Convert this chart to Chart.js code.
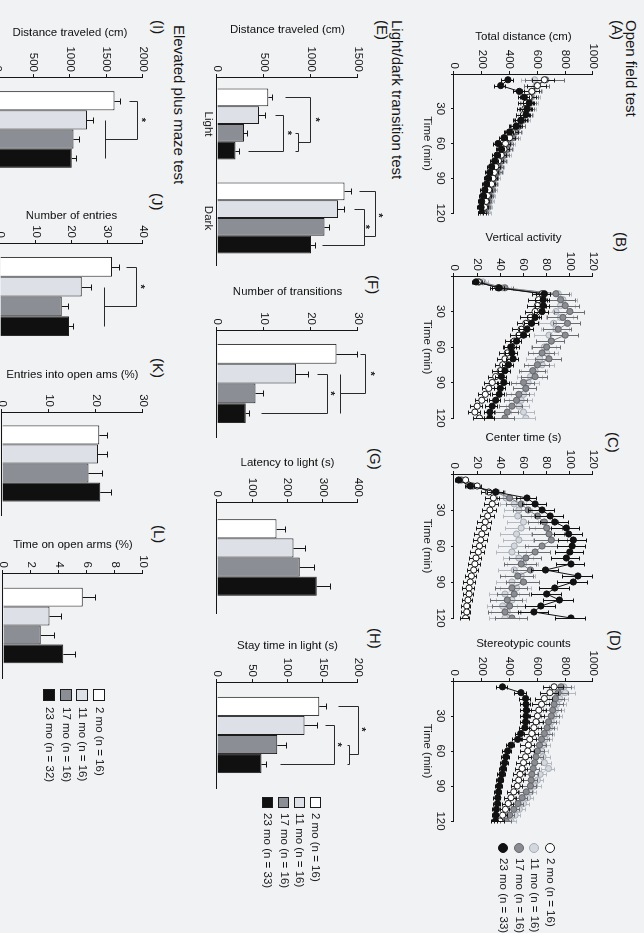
<!DOCTYPE html>
<html>
<head>
<meta charset="utf-8">
<title>Age-dependent behaviour: open field, light/dark transition and elevated plus maze</title>
<script src="https://cdn.jsdelivr.net/npm/chart.js@4.4.1/dist/chart.umd.min.js"></script>
<style>
  html, body { margin:0; padding:0; width:644px; height:933px; overflow:hidden; background:#f1f2f4; }
  /* the figure is laid out landscape (933 x 644) and turned a quarter turn clockwise */
  #fig { position:absolute; left:0; top:0; width:933px; height:644px; overflow:hidden;
         transform-origin:0 0; transform:translate(644px,0) rotate(90deg);
         font-family:"Liberation Sans", Arial, sans-serif; color:#161616; }
  #fig canvas { position:absolute; }
  .t { position:absolute; white-space:nowrap; line-height:1; }
  .head { font-size:15px; }
  .lg { font-size:11.5px; }
  .mk { position:absolute; box-sizing:border-box; }
</style>
</head>
<body>
<div id="fig"></div>
<script>
// ---------------- data ----------------
const GROUPS = ['2 mo', '11 mo', '17 mo', '23 mo'];
const N_OF_LD = [16, 16, 16, 33];
const N_EPM = [16, 16, 16, 32];
const TIME_MIN = [5, 10, 15, 20, 25, 30, 35, 40, 45, 50, 55, 60, 65, 70, 75, 80, 85, 90, 95, 100, 105, 110, 115, 120];

// (A) open field, total distance (cm) per 5-min bin; rows = 2, 11, 17, 23 mo
const OF_DISTANCE = [
  [650, 600, 560, 540, 520, 510, 500, 480, 450, 420, 400, 370, 360, 340, 320, 300, 290, 280, 270, 250, 240, 230, 220, 210],
  [580, 590, 570, 560, 550, 540, 520, 500, 470, 450, 430, 400, 390, 370, 350, 330, 320, 300, 290, 280, 270, 260, 250, 240],
  [660, 600, 560, 550, 540, 530, 510, 490, 470, 440, 420, 390, 380, 360, 340, 320, 310, 290, 280, 270, 255, 245, 235, 225],
  [388, 336, 470, 506, 541, 525, 518, 482, 447, 400, 360, 317, 340, 310, 293, 270, 257, 245, 234, 222, 210, 199, 195, 199]
];
const OF_DISTANCE_SEM = [
  [80, 70, 60, 55, 55, 50, 50, 50, 45, 45, 45, 40, 40, 40, 40, 35, 35, 35, 35, 30, 30, 30, 30, 30],
  [90, 80, 70, 65, 60, 60, 55, 55, 50, 50, 50, 45, 45, 45, 40, 40, 40, 40, 35, 35, 35, 35, 30, 30],
  [140, 90, 70, 60, 60, 55, 55, 50, 50, 50, 45, 45, 45, 40, 40, 40, 40, 35, 35, 35, 35, 30, 30, 30],
  [45, 40, 40, 40, 40, 40, 35, 35, 35, 35, 30, 30, 30, 30, 30, 25, 25, 25, 25, 25, 25, 20, 20, 20]
];

// (B) vertical activity
const OF_VERTICAL = [
  [21, 38, 76, 73, 72, 70, 66, 62, 58, 56, 52, 50, 46, 44, 42, 40, 36, 33, 30, 27, 24, 20, 18, 22],
  [25, 42, 90, 94, 92, 88, 92, 86, 88, 82, 84, 78, 80, 74, 76, 70, 66, 64, 62, 60, 58, 56, 60, 62],
  [22, 44, 88, 92, 96, 100, 94, 98, 90, 96, 84, 80, 76, 82, 72, 68, 70, 60, 62, 56, 54, 50, 46, 44],
  [19, 39, 78, 77, 77, 76, 70, 67, 63, 60, 54, 49, 50, 51, 47, 44, 41, 43, 40, 39, 36, 33, 31, 31]
];
const OF_VERTICAL_SEM = [
  [4, 6, 8, 8, 8, 8, 8, 7, 7, 7, 7, 7, 6, 6, 6, 6, 6, 6, 5, 5, 5, 5, 5, 5],
  [5, 8, 12, 13, 13, 13, 12, 12, 12, 12, 12, 11, 11, 11, 11, 11, 11, 10, 10, 10, 10, 10, 10, 9],
  [5, 8, 12, 13, 13, 13, 13, 12, 12, 12, 12, 12, 11, 11, 11, 11, 11, 10, 10, 10, 10, 10, 10, 9],
  [3, 5, 6, 6, 6, 6, 6, 6, 6, 6, 5, 5, 5, 5, 5, 5, 5, 5, 5, 5, 5, 5, 4, 4]
];

// (C) center time (s)
const OF_CENTER = [
  [10, 20, 30, 34, 33, 31, 29, 27, 26, 24, 23, 22, 21, 19, 18, 17, 15, 14, 13, 13, 12, 11, 11, 10],
  [7, 17, 37, 45, 52, 56, 55, 60, 58, 54, 56, 52, 50, 56, 60, 52, 58, 50, 54, 44, 50, 42, 46, 44],
  [6, 16, 36, 48, 58, 64, 72, 78, 80, 82, 84, 76, 70, 62, 58, 66, 55, 60, 50, 52, 46, 48, 44, 50],
  [4, 14, 36, 63, 70, 76, 83, 87, 97, 99, 103, 102, 100, 97, 101, 79, 107, 103, 87, 80, 91, 75, 69, 101]
];
const OF_CENTER_SEM = [
  [3, 4, 6, 6, 6, 6, 6, 6, 6, 6, 6, 6, 6, 5, 5, 5, 5, 5, 5, 4, 4, 4, 4, 4],
  [3, 5, 8, 10, 11, 12, 12, 13, 13, 13, 13, 13, 13, 13, 13, 13, 13, 13, 13, 13, 13, 13, 13, 13],
  [3, 5, 8, 10, 12, 12, 13, 13, 14, 14, 14, 14, 14, 14, 14, 14, 14, 14, 14, 14, 14, 14, 14, 14],
  [2, 4, 7, 9, 10, 11, 12, 12, 12, 12, 12, 12, 12, 12, 12, 12, 13, 13, 13, 13, 13, 13, 13, 13]
];

// (D) stereotypic counts
const OF_STEREO = [
  [720, 690, 650, 630, 610, 600, 590, 575, 560, 545, 535, 530, 515, 500, 490, 475, 465, 455, 430, 410, 390, 370, 350, 330],
  [790, 800, 760, 740, 730, 720, 700, 690, 670, 655, 640, 630, 640, 650, 680, 620, 600, 580, 550, 530, 500, 470, 440, 410],
  [770, 750, 730, 720, 710, 700, 680, 670, 650, 630, 615, 600, 590, 580, 570, 560, 555, 550, 520, 490, 460, 430, 400, 375],
  [349, 482, 515, 518, 520, 518, 515, 510, 480, 458, 410, 386, 373, 365, 355, 345, 335, 325, 320, 315, 313, 305, 300, 298]
];
const OF_STEREO_SEM = [
  [70, 65, 60, 60, 60, 55, 55, 55, 50, 50, 50, 50, 45, 45, 45, 45, 40, 40, 40, 40, 40, 35, 35, 35],
  [80, 75, 70, 70, 65, 65, 60, 60, 60, 60, 55, 55, 55, 55, 50, 50, 50, 50, 45, 45, 45, 45, 40, 40],
  [80, 75, 70, 70, 65, 65, 60, 60, 60, 60, 55, 55, 55, 55, 50, 50, 50, 50, 45, 45, 45, 45, 40, 40],
  [40, 40, 40, 38, 38, 36, 35, 34, 33, 32, 30, 30, 28, 28, 27, 26, 25, 25, 24, 24, 23, 22, 22, 22]
];

// (E)-(H) light/dark transition test, one value per group (2, 11, 17, 23 mo)
const LD_CHAMBERS = ['Light', 'Dark'];
const LD_DIST_LIGHT = [546, 446, 286, 196];
const LD_DIST_LIGHT_SEM = [50, 79, 46, 47];
const LD_DIST_DARK = [1357, 1286, 1143, 1000];
const LD_DIST_DARK_SEM = [79, 78, 64, 54];
const LD_TRANSITIONS = [25.4, 16.8, 8.2, 6.1];
const LD_TRANSITIONS_SEM = [4.7, 2.8, 1.8, 0.9];
const LD_LATENCY = [169, 217, 235, 283];
const LD_LATENCY_SEM = [28, 35, 43, 41];
const LD_STAY_LIGHT = [145, 124, 85.5, 63];
const LD_STAY_LIGHT_SEM = [11, 19, 14, 8];

// (I)-(L) elevated plus maze
const EPM_DISTANCE = [1609, 1232, 1048, 1025];
const EPM_DISTANCE_SEM = [92, 92, 88, 69];
const EPM_ENTRIES = [31.3, 22.9, 17.3, 19.3];
const EPM_ENTRIES_SEM = [2.2, 2.8, 1.9, 1.4];
const EPM_OPEN_ENTRIES = [20.7, 20.4, 18.4, 20.9];
const EPM_OPEN_ENTRIES_SEM = [1.8, 2.1, 3.0, 2.5];
const EPM_OPEN_TIME = [5.69, 3.32, 2.7, 4.31];
const EPM_OPEN_TIME_SEM = [0.92, 0.87, 1.0, 0.9];

// significance brackets: polylines of [bar slot within group, value], star = [slot, value]
const SIG_LD_DIST = [
  { cat: 0, paths: [[[0, 732], [0, 1000], [2.5, 1000], [2.5, 875]], [[2, 839], [2, 875], [3, 875], [3, 839]]], star: [1.25, 1071] },
  { cat: 0, paths: [[[1, 625], [1, 714], [3, 714], [3, 339]]], star: [2, 779] },
  { cat: 1, paths: [[[0, 1518], [0, 1696], [2.5, 1696], [2.5, 1571]]], star: [1.35, 1750] },
  { cat: 1, paths: [[[1, 1464], [1, 1571], [3, 1571], [3, 1125]]], star: [2, 1607] }
];
const SIG_LD_TRANSITIONS = [
  { cat: 0, paths: [[[0, 30.7], [0, 31.8], [2, 31.8], [2, 26.4]], [[1, 26.4], [3, 26.4]]], star: [1, 33.2] },
  { cat: 0, paths: [[[1, 21.4], [1, 23.6], [3, 23.6], [3, 9.6]]], star: [2, 24.6] }
];
const SIG_LD_STAY = [
  { cat: 0, paths: [[[0, 173], [0, 201], [2.5, 201], [2.5, 189]], [[2, 185.6], [2, 189], [3, 189], [3, 185.6]]], star: [1.2, 208] },
  { cat: 0, paths: [[[1, 155], [1, 168], [3, 168], [3, 91]]], star: [2, 174] }
];
const SIG_EPM_DISTANCE = [
  { cat: 0, paths: [[[0, 1816], [0, 1931], [2, 1931], [2, 1494]], [[1, 1494], [3, 1494]]], star: [1, 2014] }
];
const SIG_EPM_ENTRIES = [
  { cat: 0, paths: [[[0, 35.5], [0, 38.3], [2, 38.3], [2, 29.4]], [[1, 29.4], [3, 29.4]]], star: [1, 40] }
];

// ---------------- styling ----------------
const INK = '#161616';
const FONT_FAMILY = '"Liberation Sans", Arial, sans-serif';
const BAR_FILL = ['#ffffff', '#dde1e7', '#8c8e96', '#101010'];
const LINE_STYLE = [
  { line: '#1a1a1a', fill: '#ffffff', edge: '#1a1a1a', err: '#1a1a1a', order: 1 },
  { line: '#c3c8cf', fill: '#d3d7de', edge: '#a6abb3', err: '#b4b9c1', order: 3 },
  { line: '#7c7e85', fill: '#8a8c93', edge: '#646669', err: '#6b6d73', order: 2 },
  { line: '#111111', fill: '#111111', edge: '#111111', err: '#111111', order: 0 }
];

// plotting areas in figure coordinates (before the quarter turn)
const BOX = {
  A: { L: 74, R: 213, T: 51, B: 190, titleOff: 37 },
  B: { L: 276, R: 418, T: 51, B: 190, titleOff: 38 },
  C: { L: 474, R: 618, T: 51, B: 190, titleOff: 36 },
  D: { L: 681, R: 821, T: 51, B: 190, titleOff: 37 },
  E: { L: 77, R: 265, T: 286, B: 427, titleOff: 47, cat: 0.755 },
  F: { L: 330, R: 437, T: 286, B: 427, titleOff: 38, cat: 0.74 },
  G: { L: 502, R: 613, T: 286, B: 427, titleOff: 39, cat: 0.69 },
  H: { L: 682, R: 788, T: 286, B: 427, titleOff: 36, cat: 0.72 },
  I: { L: 77, R: 182, T: 501, B: 647, titleOff: 44, cat: 0.73 },
  J: { L: 243, R: 350, T: 501, B: 644, titleOff: 27, cat: 0.74 },
  K: { L: 412, R: 515, T: 501, B: 642, titleOff: 37, cat: 0.74 },
  L: { L: 573, R: 678, T: 501, B: 641, titleOff: 28, cat: 0.72 }
};
const M = { l: 64, t: 44, r: 12, b: 44 };   // canvas margin around each plotting area
const HALF_LINE = 11.5 * 1.2 / 2;
const plainNumber = v => String(v);

Chart.defaults.font.family = FONT_FAMILY;
Chart.defaults.font.size = 11.5;
Chart.defaults.color = INK;
Chart.defaults.animation = false;

// error bars (SEM) drawn through each dataset's own scales
const errorBars = {
  id: 'errorBars',
  beforeDatasetDraw(chart, args) {
    const ds = chart.data.datasets[args.index];
    if (!ds.sem || ds.oneSided) return;
    drawErrors(chart, args.meta, ds);
  },
  afterDatasetDraw(chart, args) {
    const ds = chart.data.datasets[args.index];
    if (!ds.sem || !ds.oneSided) return;
    drawErrors(chart, args.meta, ds);
  }
};
function drawErrors(chart, meta, ds) {
  const ys = chart.scales[meta.yAxisID];
  const ctx = chart.ctx;
  const cap = ds.capHalf || 2;
  ctx.save();
  ctx.strokeStyle = ds.errColor || INK;
  ctx.lineWidth = 1;
  ctx.beginPath();
  meta.data.forEach((el, i) => {
    const raw = ds.data[i];
    const v = (raw !== null && typeof raw === 'object') ? raw.y : raw;
    const e = ds.sem[i];
    const x = Math.round(el.x) + 0.5;
    const yHi = Math.round(ys.getPixelForValue(v + e)) + 0.5;
    const yLo = ds.oneSided ? ys.getPixelForValue(v) : Math.round(ys.getPixelForValue(v - e)) + 0.5;
    ctx.moveTo(x, yLo); ctx.lineTo(x, yHi);
    ctx.moveTo(x - cap, yHi); ctx.lineTo(x + cap, yHi);
    if (!ds.oneSided) { ctx.moveTo(x - cap, yLo); ctx.lineTo(x + cap, yLo); }
  });
  ctx.stroke();
  ctx.restore();
}

// significance brackets and stars positioned on the bar slots and value scale
const brackets = {
  id: 'brackets',
  afterDatasetsDraw(chart, args, opts) {
    const items = opts && opts.items;
    if (!items || !items.length) return;
    const ys = chart.scales.y;
    const m0 = chart.getDatasetMeta(0), m1 = chart.getDatasetMeta(1);
    const slotX = (cat, s) => {
      const x0 = m0.data[cat].x, dx = m1.data[cat].x - x0;
      return x0 + s * dx;
    };
    const ctx = chart.ctx;
    ctx.save();
    ctx.strokeStyle = '#2a2a2a';
    ctx.lineWidth = 1;
    for (const it of items) {
      for (const path of it.paths) {
        ctx.beginPath();
        path.forEach(([s, v], k) => {
          const x = Math.round(slotX(it.cat, s)) + 0.5;
          const y = Math.round(ys.getPixelForValue(v)) + 0.5;
          if (k) ctx.lineTo(x, y); else ctx.moveTo(x, y);
        });
        ctx.stroke();
      }
      ctx.fillStyle = INK;
      ctx.font = 'bold 11px ' + FONT_FAMILY;
      ctx.textAlign = 'center';
      ctx.textBaseline = 'middle';
      ctx.fillText('*', slotX(it.cat, it.star[0]), ys.getPixelForValue(it.star[1]) + 3);
    }
    ctx.restore();
  }
};
Chart.register(errorBars, brackets);

const fig = document.getElementById('fig');

function panelCanvas(box) {
  const c = document.createElement('canvas');
  const w = box.R - box.L + M.l + M.r;
  const h = box.B - box.T + M.t + M.b;
  c.width = w; c.height = h;
  c.style.left = (box.L - M.l) + 'px';
  c.style.top = (box.T - M.t) + 'px';
  c.style.width = w + 'px';
  c.style.height = h + 'px';
  fig.appendChild(c);
  return c;
}
function zeroPad(s) { s.paddingLeft = 0; s.paddingRight = 0; s.paddingTop = 0; s.paddingBottom = 0; }

function valueAxis(box, max, step, title) {
  return {
    type: 'linear', min: 0, max: max,
    ticks: { stepSize: step, padding: 2, color: INK, autoSkip: false, callback: plainNumber },
    grid: { display: true, drawOnChartArea: false, drawTicks: true, tickLength: 3, color: INK, lineWidth: 1 },
    border: { display: true, color: INK, width: 1 },
    title: { display: true, text: title, color: INK, padding: { top: M.l - box.titleOff - HALF_LINE, bottom: 0 } },
    afterFit: s => { s.width = M.l; zeroPad(s); }
  };
}

function baseOptions() {
  return {
    responsive: false,
    devicePixelRatio: 1,
    animation: false,
    events: [],
    layout: { padding: { left: 0, top: M.t, right: M.r, bottom: 0 } },
    plugins: { legend: { display: false }, tooltip: { enabled: false } }
  };
}

function lineChart(box, title, max, step, means, sems) {
  const opts = baseOptions();
  opts.scales = {
    x: {
      type: 'linear', min: 0, max: 120,
      ticks: { stepSize: 30, padding: 4, maxRotation: 0, autoSkip: false, callback: v => (v === 0 ? '' : String(v)) },
      grid: { display: true, drawOnChartArea: false, drawTicks: true, tickLength: 3, color: INK },
      border: { display: true, color: INK, width: 1 },
      title: { display: true, text: 'Time (min)', color: INK, padding: { top: 0, bottom: M.b - 27 - HALF_LINE } },
      afterFit: s => { s.height = M.b; zeroPad(s); }
    },
    y: valueAxis(box, max, step, title)
  };
  new Chart(panelCanvas(box), {
    type: 'line',
    data: {
      datasets: GROUPS.map((g, i) => ({
        label: g,
        data: TIME_MIN.map((t, k) => ({ x: t, y: means[i][k] })),
        sem: sems[i],
        errColor: LINE_STYLE[i].err,
        capHalf: 2,
        order: LINE_STYLE[i].order,
        borderColor: LINE_STYLE[i].line,
        borderWidth: 1,
        tension: 0,
        fill: false,
        pointRadius: 3.1,
        pointBackgroundColor: LINE_STYLE[i].fill,
        pointBorderColor: LINE_STYLE[i].edge,
        pointBorderWidth: 1
      }))
    },
    options: opts
  });
}

function barChart(box, title, max, step, labels, seriesByGroup, semByGroup, sig) {
  const opts = baseOptions();
  opts.scales = {
    x: {
      type: 'category', offset: true,
      ticks: { display: labels.some(l => l !== ''), padding: 2, maxRotation: 0, autoSkip: false, color: INK },
      grid: { display: false, drawTicks: false },
      border: { display: true, color: INK, width: 1 },
      afterFit: s => { s.height = M.b; zeroPad(s); }
    },
    y: valueAxis(box, max, step, title)
  };
  opts.plugins.brackets = { items: sig || [] };
  new Chart(panelCanvas(box), {
    type: 'bar',
    data: {
      labels: labels,
      datasets: GROUPS.map((g, i) => ({
        label: g,
        data: seriesByGroup[i],
        sem: semByGroup[i],
        oneSided: true,
        capHalf: 3,
        backgroundColor: BAR_FILL[i],
        borderColor: '#1c1c1c',
        borderWidth: 1,
        barPercentage: 1,
        categoryPercentage: box.cat
      }))
    },
    options: opts
  });
}
const perGroup = arr => arr.map(v => [v]);

// ---------------- text ----------------
function text(str, left, centerY, cls, size) {
  const d = document.createElement('div');
  d.className = 't ' + cls;
  d.style.left = left + 'px';
  d.style.top = (centerY - 0.49 * size) + 'px';
  d.textContent = str;
  fig.appendChild(d);
}
text('Open field test', 20, 12.5, 'head', 15);
text('(A)', 20, 26, 'head', 15);
text('(B)', 232, 22, 'head', 15);
text('(C)', 432, 30, 'head', 15);
text('(D)', 630, 28, 'head', 15);
text('Light/dark transition test', 20, 246.5, 'head', 15);
text('(E)', 20, 261.5, 'head', 15);
text('(F)', 275, 270, 'head', 15);
text('(G)', 448, 268, 'head', 15);
text('(H)', 628, 268, 'head', 15);
text('Elevated plus maze test', 25, 464, 'head', 15);
text('(I)', 20, 485.5, 'head', 15);
text('(J)', 193, 486, 'head', 15);
text('(K)', 358, 485.5, 'head', 15);
text('(L)', 525, 484, 'head', 15);

// ---------------- charts ----------------
lineChart(BOX.A, 'Total distance (cm)', 1000, 200, OF_DISTANCE, OF_DISTANCE_SEM);
lineChart(BOX.B, 'Vertical activity', 120, 20, OF_VERTICAL, OF_VERTICAL_SEM);
lineChart(BOX.C, 'Center time (s)', 120, 20, OF_CENTER, OF_CENTER_SEM);
lineChart(BOX.D, 'Stereotypic counts', 1000, 200, OF_STEREO, OF_STEREO_SEM);

barChart(BOX.E, 'Distance traveled (cm)', 1500, 500, LD_CHAMBERS,
  GROUPS.map((g, i) => [LD_DIST_LIGHT[i], LD_DIST_DARK[i]]),
  GROUPS.map((g, i) => [LD_DIST_LIGHT_SEM[i], LD_DIST_DARK_SEM[i]]), SIG_LD_DIST);
barChart(BOX.F, 'Number of transitions', 30, 10, [''], perGroup(LD_TRANSITIONS), perGroup(LD_TRANSITIONS_SEM), SIG_LD_TRANSITIONS);
barChart(BOX.G, 'Latency to light (s)', 400, 100, [''], perGroup(LD_LATENCY), perGroup(LD_LATENCY_SEM), []);
barChart(BOX.H, 'Stay time in light (s)', 200, 50, [''], perGroup(LD_STAY_LIGHT), perGroup(LD_STAY_LIGHT_SEM), SIG_LD_STAY);

barChart(BOX.I, 'Distance traveled (cm)', 2000, 500, [''], perGroup(EPM_DISTANCE), perGroup(EPM_DISTANCE_SEM), SIG_EPM_DISTANCE);
barChart(BOX.J, 'Number of entries', 40, 10, [''], perGroup(EPM_ENTRIES), perGroup(EPM_ENTRIES_SEM), SIG_EPM_ENTRIES);
barChart(BOX.K, 'Entries into open ams (%)', 30, 10, [''], perGroup(EPM_OPEN_ENTRIES), perGroup(EPM_OPEN_ENTRIES_SEM), []);
barChart(BOX.L, 'Time on open arms (%)', 10, 2, [''], perGroup(EPM_OPEN_TIME), perGroup(EPM_OPEN_TIME_SEM), []);

// ---------------- legends ----------------
function legend(markLeft, size, centers, textLeft, counts, styleOf) {
  centers.forEach((cy, i) => {
    const m = document.createElement('div');
    m.className = 'mk';
    m.style.left = markLeft + 'px';
    m.style.top = (cy - size / 2) + 'px';
    m.style.width = size + 'px';
    m.style.height = size + 'px';
    Object.assign(m.style, styleOf(i));
    fig.appendChild(m);
    text(GROUPS[i] + ' (n = ' + counts[i] + ')', textLeft, cy, 'lg', 11.5);
  });
}
legend(843, 10, [94, 109.5, 125, 140.5], 858, N_OF_LD, i => ({
  borderRadius: '50%', background: LINE_STYLE[i].fill, border: '1px solid ' + LINE_STYLE[i].edge
}));
legend(797, 11, [328.5, 344.5, 360, 376.5], 813, N_OF_LD, i => ({
  background: BAR_FILL[i], border: '1px solid #1c1c1c'
}));
legend(689, 12, [544.5, 561.5, 577.5, 595], 707, N_EPM, i => ({
  background: BAR_FILL[i], border: '1px solid #1c1c1c'
}));
</script>
</body>
</html>
